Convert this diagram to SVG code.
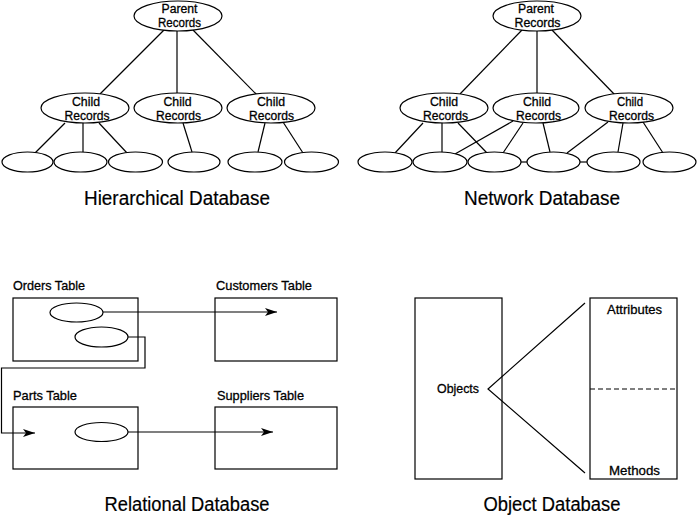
<svg xmlns="http://www.w3.org/2000/svg" width="697" height="518" viewBox="0 0 697 518">
<style>
.s{fill:#fff;stroke:#000;stroke-width:1.2}
.l{fill:none;stroke:#000;stroke-width:1.2}
text{font-family:"Liberation Sans",Arial,sans-serif;fill:#000;stroke:#000;stroke-width:0.3}
.n{font-size:12.5px;text-anchor:middle}
.t{font-size:20px;text-anchor:middle;stroke-width:0.2}
.b{font-size:13.5px}
</style>
<defs>
<marker id="ah" markerWidth="13" markerHeight="8" refX="12" refY="4" orient="auto" markerUnits="userSpaceOnUse">
<path d="M0,0 L12,4 L0,8 L3,4 z" fill="#000"/>
</marker>
</defs>
<rect width="697" height="518" fill="#fff"/>

<g id="connectors">
<!-- hierarchical -->
<line class="l" x1="164" y1="30" x2="100" y2="94"/>
<line class="l" x1="177" y1="31" x2="177" y2="93"/>
<line class="l" x1="193" y1="30" x2="257" y2="95"/>
<line class="l" x1="65" y1="123" x2="35" y2="153"/>
<line class="l" x1="83" y1="123" x2="83" y2="152"/>
<line class="l" x1="99" y1="123" x2="127" y2="153"/>
<line class="l" x1="183" y1="123" x2="192" y2="152"/>
<line class="l" x1="265" y1="123" x2="258" y2="152"/>
<line class="l" x1="283" y1="122" x2="303" y2="153"/>
<!-- network -->
<line class="l" x1="522" y1="30" x2="460" y2="94"/>
<line class="l" x1="537" y1="31" x2="537" y2="93"/>
<line class="l" x1="552" y1="30" x2="615" y2="95"/>
<line class="l" x1="423" y1="123" x2="395" y2="153"/>
<line class="l" x1="442" y1="123" x2="442" y2="152"/>
<line class="l" x1="458" y1="123" x2="487" y2="153"/>
<line class="l" x1="513" y1="121" x2="455" y2="154"/>
<line class="l" x1="523" y1="123" x2="503" y2="153"/>
<line class="l" x1="543" y1="123" x2="550" y2="152"/>
<line class="l" x1="608" y1="122" x2="567" y2="153"/>
<line class="l" x1="623" y1="123" x2="618" y2="152"/>
<line class="l" x1="643" y1="122" x2="663" y2="153"/>
<line class="l" x1="521" y1="162" x2="527" y2="162"/>
<line class="l" x1="580" y1="162" x2="587" y2="162"/>
<!-- object -->
<polyline class="l" points="585,303 488,389 585,473"/>
</g>

<!-- Hierarchical -->
<g id="h-parent"><ellipse class="s" cx="178" cy="16" rx="44" ry="15"/>
<text class="n" x="179.5" y="12.5" textLength="36" lengthAdjust="spacingAndGlyphs">Parent</text>
<text class="n" x="179.5" y="26.5" textLength="43" lengthAdjust="spacingAndGlyphs">Records</text></g>
<g id="h-child1"><ellipse class="s" cx="85" cy="108" rx="44" ry="15"/>
<text class="n" x="86" y="106" textLength="28" lengthAdjust="spacingAndGlyphs">Child</text>
<text class="n" x="87" y="120" textLength="45" lengthAdjust="spacingAndGlyphs">Records</text></g>
<g id="h-child2"><ellipse class="s" cx="178" cy="108" rx="44" ry="15"/>
<text class="n" x="177.5" y="106" textLength="28" lengthAdjust="spacingAndGlyphs">Child</text>
<text class="n" x="178.5" y="120" textLength="45" lengthAdjust="spacingAndGlyphs">Records</text></g>
<g id="h-child3"><ellipse class="s" cx="271" cy="108" rx="44" ry="15"/>
<text class="n" x="271" y="106" textLength="28" lengthAdjust="spacingAndGlyphs">Child</text>
<text class="n" x="271.5" y="120" textLength="45" lengthAdjust="spacingAndGlyphs">Records</text></g>
<g id="h-leaf1"><ellipse class="s" cx="27.5" cy="162" rx="25.5" ry="10"/></g>
<g id="h-leaf2"><ellipse class="s" cx="80.5" cy="162" rx="26.5" ry="10"/></g>
<g id="h-leaf3"><ellipse class="s" cx="135.5" cy="162" rx="27" ry="10"/></g>
<g id="h-leaf4"><ellipse class="s" cx="194" cy="162" rx="26" ry="10"/></g>
<g id="h-leaf5"><ellipse class="s" cx="255" cy="162" rx="27" ry="10"/></g>
<g id="h-leaf6"><ellipse class="s" cx="311.5" cy="162" rx="27" ry="10"/></g>
<text class="t" x="177" y="205" textLength="186" lengthAdjust="spacingAndGlyphs">Hierarchical Database</text>

<!-- Network -->
<g id="n-parent"><ellipse class="s" cx="537" cy="16" rx="44" ry="15"/>
<text class="n" x="536" y="12.5" textLength="36" lengthAdjust="spacingAndGlyphs">Parent</text>
<text class="n" x="537.5" y="26.5" textLength="46" lengthAdjust="spacingAndGlyphs">Records</text></g>
<g id="n-child1"><ellipse class="s" cx="444" cy="108" rx="44" ry="15"/>
<text class="n" x="444" y="106" textLength="28" lengthAdjust="spacingAndGlyphs">Child</text>
<text class="n" x="445.5" y="120" textLength="45" lengthAdjust="spacingAndGlyphs">Records</text></g>
<g id="n-child2"><ellipse class="s" cx="536" cy="108" rx="43" ry="15"/>
<text class="n" x="537" y="106" textLength="28" lengthAdjust="spacingAndGlyphs">Child</text>
<text class="n" x="538.5" y="120" textLength="45" lengthAdjust="spacingAndGlyphs">Records</text></g>
<g id="n-child3"><ellipse class="s" cx="629" cy="108" rx="44" ry="15"/>
<text class="n" x="630" y="106" textLength="26" lengthAdjust="spacingAndGlyphs">Child</text>
<text class="n" x="631.5" y="120" textLength="45" lengthAdjust="spacingAndGlyphs">Records</text></g>
<g id="n-leaf1"><ellipse class="s" cx="385" cy="162" rx="27" ry="10"/></g>
<g id="n-leaf2"><ellipse class="s" cx="440" cy="162" rx="27" ry="10"/></g>
<g id="n-leaf3"><ellipse class="s" cx="494.5" cy="162" rx="26.5" ry="10"/></g>
<g id="n-leaf4"><ellipse class="s" cx="553.5" cy="162" rx="26.5" ry="10"/></g>
<g id="n-leaf5"><ellipse class="s" cx="613.5" cy="162" rx="26.5" ry="10"/></g>
<g id="n-leaf6"><ellipse class="s" cx="669.5" cy="162" rx="26.5" ry="10"/></g>
<text class="t" x="542" y="205" textLength="156" lengthAdjust="spacingAndGlyphs">Network Database</text>

<!-- Relational -->
<g id="orders"><text class="b" x="13" y="290" textLength="72" lengthAdjust="spacingAndGlyphs">Orders Table</text>
<rect class="s" x="13" y="298" width="125" height="63"/>
<ellipse class="s" cx="76.5" cy="312.5" rx="26.5" ry="9.5"/>
<ellipse class="s" cx="101.5" cy="337" rx="26.5" ry="10"/></g>
<g id="customers"><text class="b" x="216" y="290" textLength="96" lengthAdjust="spacingAndGlyphs">Customers Table</text>
<rect class="s" x="215" y="298" width="122" height="63"/></g>
<g id="parts"><text class="b" x="13" y="400" textLength="64" lengthAdjust="spacingAndGlyphs">Parts Table</text>
<rect class="s" x="13" y="407" width="125" height="62"/>
<ellipse class="s" cx="101.5" cy="432" rx="26.5" ry="9.5"/></g>
<g id="suppliers"><text class="b" x="217" y="400" textLength="87" lengthAdjust="spacingAndGlyphs">Suppliers Table</text>
<rect class="s" x="215" y="407" width="122" height="62"/></g>
<g id="relational-connectors">
<line class="l" x1="103" y1="312" x2="277" y2="312" marker-end="url(#ah)"/>
<polyline class="l" points="128,337 145,337 145,368 1.5,368 1.5,433 35,433" marker-end="url(#ah)"/>
<line class="l" x1="128" y1="432" x2="273" y2="432" marker-end="url(#ah)"/>
</g>
<text class="t" x="187" y="511" textLength="165" lengthAdjust="spacingAndGlyphs">Relational Database</text>

<!-- Object -->
<g id="objects"><rect class="l" x="415" y="298" width="87" height="181"/>
<text class="b" x="437" y="393" textLength="42" lengthAdjust="spacingAndGlyphs">Objects</text></g>
<g id="class"><rect class="l" x="590" y="298" width="87" height="181"/>
<line class="l" x1="590" y1="389" x2="677" y2="389" stroke-dasharray="5,3"/>
<text class="b" x="607" y="314" textLength="55" lengthAdjust="spacingAndGlyphs">Attributes</text>
<text class="b" x="609" y="475" textLength="51" lengthAdjust="spacingAndGlyphs">Methods</text></g>
<text class="t" x="552" y="511" textLength="137" lengthAdjust="spacingAndGlyphs">Object Database</text>
</svg>
